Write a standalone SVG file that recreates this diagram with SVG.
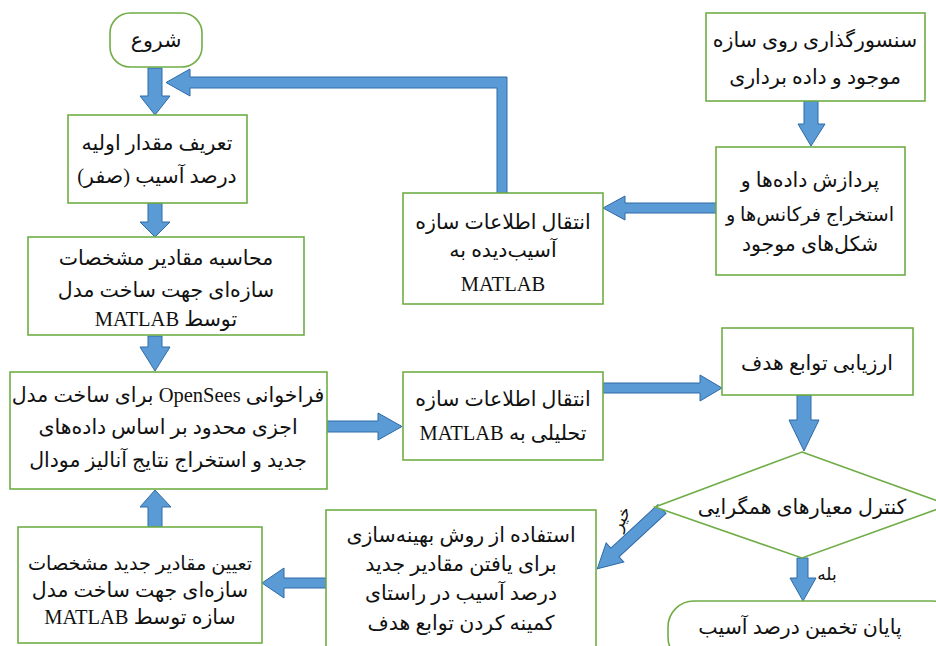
<svg xmlns="http://www.w3.org/2000/svg" width="936" height="646" viewBox="0 0 936 646">
<style>
.box{fill:#fff;stroke:#70ad47;stroke-width:1.6}
.arr{fill:#5b9bd5;stroke:#2e6aa8;stroke-width:1}
text{font-family:'Liberation Serif','DejaVu Sans',serif;font-size:20.5px;fill:#111;text-anchor:middle;direction:rtl;unicode-bidi:embed}
.sm{font-size:17px}
.fit{font-size:19.3px}
</style>
<rect width="936" height="646" fill="#fff"/>
<g id="connectors">
<polygon class="arr" points="148,68 162,68 162,96 170,96 155,115 140,96 148,96"/>
<polygon class="arr" points="497,193 507,193 507,77 190,77 190,69 166,82.5 190,96 190,88 497,88"/>
<polygon class="arr" points="148,203 162,203 162,222 170,222 155,237 140,222 148,222"/>
<polygon class="arr" points="148,336 162,336 162,347 170,347 155,371 140,347 148,347"/>
<polygon class="arr" points="327,421 378,421 378,413 402,426.5 378,440 378,432 327,432"/>
<polygon class="arr" points="603,383 700,383 700,375 722,388 700,401 700,393 603,393"/>
<polygon class="arr" points="797,395 811,395 811,420 819,420 804,451 789,420 797,420"/>
<polygon class="arr" points="797,558 808,558 808,578 816,578 803,601 790,578 797,578"/>
<polygon class="arr" transform="translate(662,509) rotate(137.3)" points="0,-6 64,-6 64,-13 88,0 64,13 64,6 0,6"/>
<polygon class="arr" points="326,578 284,578 284,568 262,583 284,598 284,588 326,588"/>
<polygon class="arr" points="148,527 162,527 162,507 171,507 155,490 140,507 148,507"/>
<polygon class="arr" points="804,101 818,101 818,124 825,124 811,146 798,124 804,124"/>
<polygon class="arr" points="716,203 625,203 625,196 603,208 625,220 625,213 716,213"/>
<text class="sm" x="827" y="580">بله</text>
<text class="sm" transform="translate(626,521) rotate(-65)">خیر</text>
</g>
<g id="start">
<rect class="box" x="110" y="13" width="92" height="54" rx="20"/>
<text x="156" y="47">شروع</text>
</g>
<g id="init">
<rect class="box" x="68" y="115" width="179" height="88"/>
<text x="157" y="150">تعریف مقدار اولیه</text>
<text x="157" y="183">درصد آسیب (صفر)</text>
</g>
<g id="calc">
<rect class="box" x="28" y="237" width="276" height="98"/>
<text x="166" y="265">محاسبه مقادیر مشخصات</text>
<text x="166" y="297">سازه&#x200C;ای جهت ساخت مدل</text>
<text x="166" y="326">توسط MATLAB</text>
</g>
<g id="opensees">
<rect class="box" x="10" y="372" width="317" height="117"/>
<text x="168" y="402">فراخوانی OpenSees برای ساخت مدل</text>
<text x="168" y="434">اجزی محدود بر اساس داده&#x200C;های</text>
<text x="168" y="467">جدید و استخراج نتایج آنالیز مودال</text>
</g>
<g id="transfer-analytic">
<rect class="box" x="403" y="372" width="200" height="88"/>
<text x="503" y="406">انتقال اطلاعات سازه</text>
<text x="503" y="440">تحلیلی به MATLAB</text>
</g>
<g id="evaluate">
<rect class="box" x="722" y="328" width="191" height="67"/>
<text x="817" y="370">ارزیابی توابع هدف</text>
</g>
<g id="decision">
<polygon class="box" points="802,452 949,505 802,558 655,507"/>
<text x="802" y="514">کنترل معیارهای همگرایی</text>
</g>
<g id="end">
<rect class="box" x="668" y="601" width="290" height="62" rx="26"/>
<text x="800" y="634">پایان تخمین درصد آسیب</text>
</g>
<g id="optimize">
<rect class="box" x="326" y="510" width="270" height="145"/>
<text x="461" y="542">استفاده از روش بهینه&#x200C;سازی</text>
<text x="461" y="571">برای یافتن مقادیر جدید</text>
<text x="461" y="600">درصد آسیب در راستای</text>
<text x="461" y="630">کمینه کردن توابع هدف</text>
</g>
<g id="assign">
<rect class="box" x="18" y="527" width="244" height="116"/>
<text class="fit" x="140" y="570">تعیین مقادیر جدید مشخصات</text>
<text x="140" y="597">سازه&#x200C;ای جهت ساخت مدل</text>
<text x="140" y="624">سازه توسط MATLAB</text>
</g>
<g id="sensor">
<rect class="box" x="706" y="13" width="219" height="88"/>
<text x="815" y="47">سنسورگذاری روی سازه</text>
<text x="815" y="84">موجود و داده برداری</text>
</g>
<g id="process">
<rect class="box" x="716" y="147" width="189" height="128"/>
<text x="810" y="187">پردازش داده&#x200C;ها و</text>
<text class="fit" x="810" y="221">استخراج فرکانس&#x200C;ها و</text>
<text x="810" y="251">شکل&#x200C;های موجود</text>
</g>
<g id="transfer-damaged">
<rect class="box" x="403" y="193" width="200" height="111"/>
<text x="503" y="229">انتقال اطلاعات سازه</text>
<text x="503" y="257">آسیب&#x200C;دیده به</text>
<text x="503" y="291">MATLAB</text>
</g>
</svg>
